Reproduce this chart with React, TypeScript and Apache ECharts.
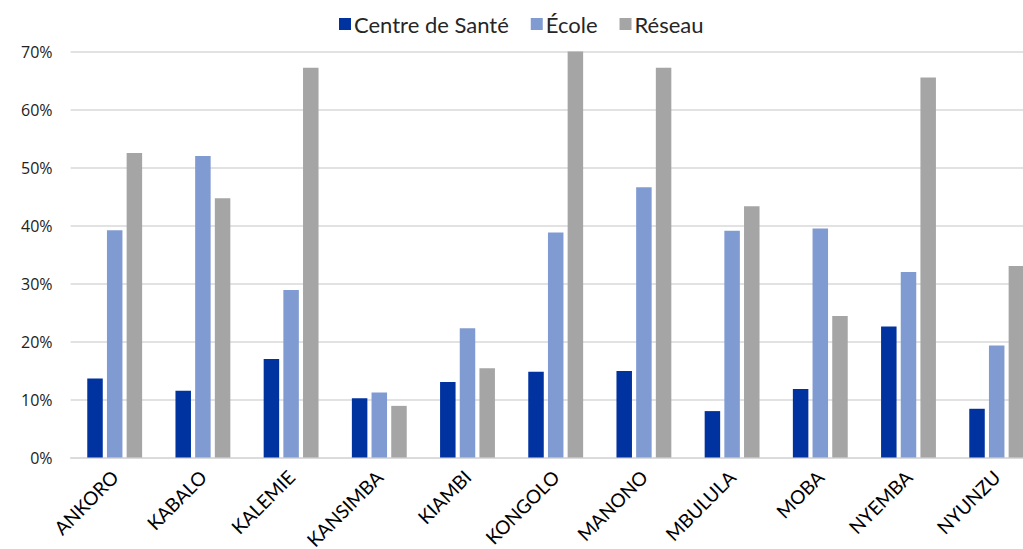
import React, { useEffect, useRef } from "react";
import * as echarts from "echarts";

const categories = ["ANKORO", "KABALO", "KALEMIE", "KANSIMBA", "KIAMBI", "KONGOLO", "MANONO", "MBULULA", "MOBA", "NYEMBA", "NYUNZU"];
const centreSante = [13.6, 11.5, 17.0, 10.2, 13.0, 14.8, 14.9, 8.0, 11.8, 22.6, 8.4];
const ecole = [39.2, 52.0, 28.9, 11.2, 22.3, 38.8, 46.6, 39.1, 39.5, 32.0, 19.3];
const reseau = [52.5, 44.7, 67.2, 8.9, 15.4, 70.4, 67.2, 43.3, 24.4, 65.5, 33.0];
const seriesNames = ["Centre de Santé", "École", "Réseau"];
const colors = ["#0033A0", "#809BD1", "#A5A5A5"];

export default function App() {
  const ref = useRef<HTMLDivElement>(null);
  useEffect(() => {
    if (!ref.current) return;
    const chart = echarts.init(ref.current, null, { renderer: "svg" });
    const data = [centreSante, ecole, reseau];
    chart.setOption({
      animation: false,
      backgroundColor: "#ffffff",
      legend: {
        left: 334,
        top: 8,
        itemWidth: 12,
        itemHeight: 12,
        itemGap: 22,
        icon: "rect",
        textStyle: { fontFamily: "Lato", fontSize: 22, color: "#262626", padding: [0, 0, 0, -2] },
        data: seriesNames,
      },
      grid: { left: 70.6, right: 0.2, top: 51.5, bottom: 91.5, containLabel: false, outerBoundsMode: "none" },
      xAxis: {
        type: "category",
        data: categories,
        axisLine: { show: true, lineStyle: { color: "#D9D9D9", width: 1.5 } },
        axisTick: { show: false },
        axisLabel: {
          rotate: 45,
          interval: 0,
          margin: 16,
          fontFamily: "Lato",
          fontSize: 19,
          color: "#000000",
        },
      },
      yAxis: {
        type: "value",
        min: 0,
        max: 70,
        interval: 10,
        axisLine: { show: false },
        axisTick: { show: false },
        splitLine: { lineStyle: { color: "#D9D9D9", width: 1.5 } },
        axisLabel: {
          formatter: "{value}%",
          margin: 18,
          fontFamily: "Open Sans",
          fontSize: 16,
          color: "#222222",
        },
      },
      series: seriesNames.map((name, i) => ({
        name,
        type: "bar",
        data: data[i],
        barWidth: 15.5,
        barGap: "27%",
        itemStyle: { color: colors[i] },
      })),
    });
    return () => chart.dispose();
  }, []);
  return (
    <div style={{ position: "fixed", left: 0, top: 0, width: 1023, height: 549, overflow: "hidden", background: "#fff" }}>
      <div ref={ref} style={{ width: 1041, height: 549 }} />
    </div>
  );
}
